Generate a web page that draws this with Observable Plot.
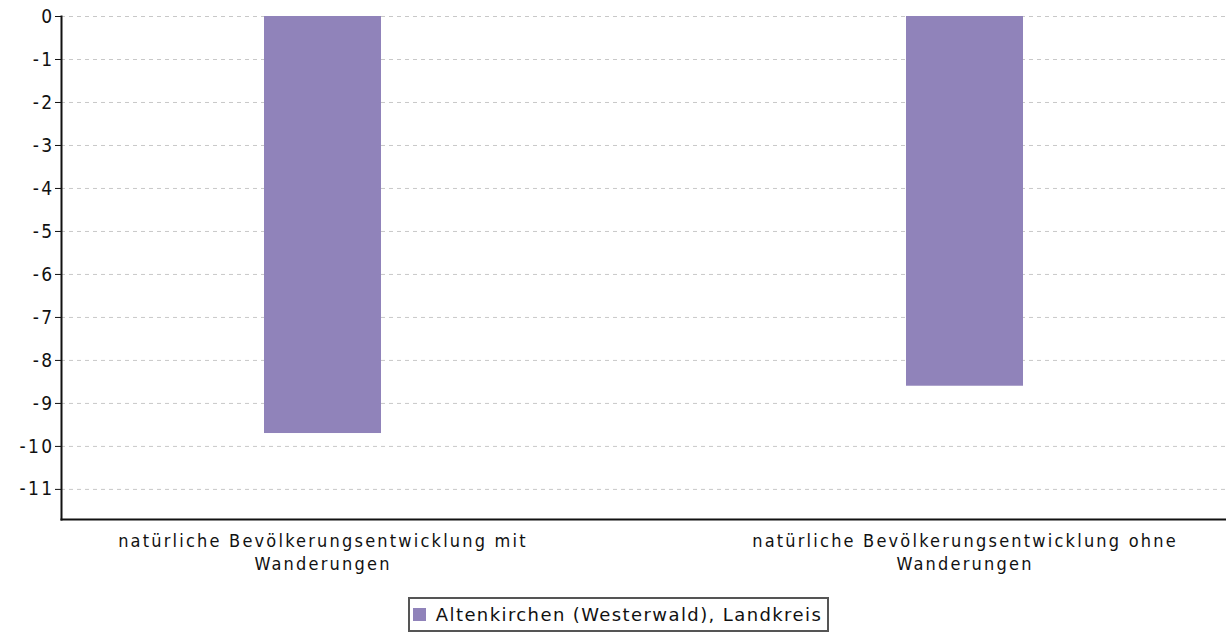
<!DOCTYPE html>
<html>
<head>
<meta charset="utf-8">
<script src="https://cdn.jsdelivr.net/npm/d3@7"></script>
<script src="https://cdn.jsdelivr.net/npm/@observablehq/plot@0.6"></script>
<style>
  html, body { margin: 0; padding: 0; background: #fff; }
  #chart svg { display: block; }
  #chart g[aria-label="x-axis tick label"] text { letter-spacing: 2.2px; }
  #chart g[aria-label="y-axis tick label"] { font-size: 19px; }
  #chart g[aria-label="y-axis tick label"] text { letter-spacing: 2.4px; }
  #legend { width: 1226px; display: flex; justify-content: center; margin-top: 7px; }
  #legend .box { border: 2px solid #555; padding: 0 5px 0 3px; margin-left: 11px; display: flex; align-items: center;
    font-family: "DejaVu Sans", sans-serif; font-size: 18px; letter-spacing: 1.4px; color: #111; height: 35px; box-sizing: border-box; }
  #legend .sw { width: 13px; height: 13px; background: #9083ba; margin-right: 10px; }
</style>
</head>
<body>
<div id="chart"></div>
<div id="legend"></div>
<script>
const categories = [
  "natürliche Bevölkerungsentwicklung mit Wanderungen",
  "natürliche Bevölkerungsentwicklung ohne Wanderungen"
];
const values = [-9.7, -8.6];
const yTicks = [0, -1, -2, -3, -4, -5, -6, -7, -8, -9, -10, -11];
const seriesName = "Altenkirchen (Westerwald), Landkreis";
const seriesColor = "#9083ba";

const data = categories.map((c, i) => ({category: c, value: values[i]}));

const chart = Plot.plot({
  width: 1226,
  height: 590,
  marginTop: 16,
  marginBottom: 71,
  marginLeft: 61,
  marginRight: 0,
  style: {fontFamily: "'DejaVu Sans Condensed', 'DejaVu Sans', sans-serif", fontSize: "16px", color: "#111"},
  x: {domain: categories, paddingInner: 0.818, paddingOuter: 0.315, label: null},
  y: {domain: [-11.7, 0], label: null},
  marks: [
    Plot.gridY(yTicks, {stroke: "#c8c8c8", strokeOpacity: 1, strokeDasharray: "4,4", strokeWidth: 1}),
    Plot.barY(data, {x: "category", y: "value", fill: seriesColor}),
    Plot.axisY(yTicks, {tickFormat: d => String(d), tickSize: 6, tickPadding: 1, fontSize: 19, stroke: "#111"}),
    Plot.axisX({tickSize: 0, tickPadding: 12, fontSize: 18, lineHeight: 1.25,
      tickFormat: d => d.replace(" Wanderungen", "\nWanderungen")}),
    Plot.frame({anchor: "left", stroke: "#111", strokeWidth: 2}),
    Plot.frame({anchor: "bottom", stroke: "#111", strokeWidth: 2})
  ]
});
document.getElementById("chart").appendChild(chart);

const lg = document.getElementById("legend");
const box = document.createElement("div");
box.className = "box";
const sw = document.createElement("span");
sw.className = "sw";
sw.style.background = seriesColor;
box.appendChild(sw);
box.appendChild(document.createTextNode(seriesName));
lg.appendChild(box);
</script>
</body>
</html>
